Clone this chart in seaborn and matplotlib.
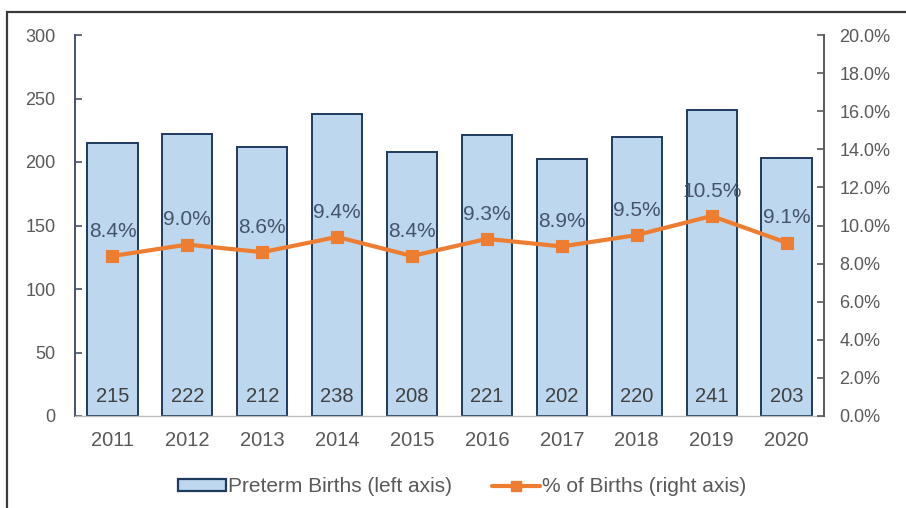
import matplotlib
matplotlib.use("Agg")
import matplotlib.pyplot as plt
from matplotlib.patches import Rectangle, Patch
from matplotlib.lines import Line2D
from matplotlib.ticker import FuncFormatter, MultipleLocator
import seaborn as sns
import pandas as pd

years = ["2011", "2012", "2013", "2014", "2015", "2016", "2017", "2018", "2019", "2020"]
preterm_births = [215, 222, 212, 238, 208, 221, 202, 220, 241, 203]
pct_of_births = [8.4, 9.0, 8.6, 9.4, 8.4, 9.3, 8.9, 9.5, 10.5, 9.1]

df = pd.DataFrame({"year": years, "births": preterm_births, "pct": pct_of_births})

sns.set_theme(style="white")
plt.rcParams["font.family"] = ["Liberation Sans", "DejaVu Sans"]

BAR_FILL = "#BDD7EE"
BAR_EDGE = "#1F3A5F"
ORANGE = "#ED7D31"
TICK_GRAY = "#595959"
LABEL_GRAY = "#404040"

fig = plt.figure(figsize=(9.06, 5.08), dpi=100)
ax = fig.add_axes([75 / 906, 1 - 416 / 508, (824 - 75) / 906, (416 - 35) / 508])

sns.barplot(data=df, x="year", y="births", ax=ax, color=BAR_FILL,
            edgecolor=BAR_EDGE, linewidth=1.4, width=0.67, saturation=1)
ax.set_ylim(0, 300)
ax.yaxis.set_major_locator(MultipleLocator(50))
ax.set_xlim(-0.5, len(years) - 0.5)
ax.set_xlabel("")
ax.set_ylabel("")

for i, v in enumerate(preterm_births):
    ax.text(i, 15, f"{v}", ha="center", va="center", fontsize=14.5, color=LABEL_GRAY)

ax2 = ax.twinx()
sns.pointplot(data=df, x="year", y="pct", ax=ax2, color=ORANGE, markers="s",
              linewidth=3, markersize=7)
ax2.set_ylim(0, 20)
ax2.yaxis.set_major_locator(MultipleLocator(2))
ax2.yaxis.set_major_formatter(FuncFormatter(lambda v, p: f"{v:.1f}%"))
ax2.set_xlim(-0.5, len(years) - 0.5)
ax2.set_ylabel("")

for i, v in enumerate(pct_of_births):
    ax2.text(i, v + 1.3, f"{v:.1f}%", ha="center", va="center", fontsize=15,
             color="#44546A")

for a in (ax, ax2):
    for s in a.spines.values():
        s.set_visible(False)
ax.spines["left"].set_visible(True)
ax.spines["left"].set_color("#44546A")
ax.spines["left"].set_linewidth(1.4)
ax.spines["bottom"].set_visible(True)
ax.spines["bottom"].set_color("#BFBFBF")
ax.spines["bottom"].set_linewidth(1.0)
ax2.spines["right"].set_visible(True)
ax2.spines["right"].set_color("#595959")
ax2.spines["right"].set_linewidth(1.4)

ax.tick_params(axis="y", direction="in", length=5, width=1.2, color="#44546A",
               labelsize=13, labelcolor=TICK_GRAY, pad=14, left=True)
ax.tick_params(axis="x", length=0, labelsize=14.5, labelcolor=TICK_GRAY, pad=11)
ax2.tick_params(axis="y", direction="in", length=5, width=1.2, color="#595959",
                labelsize=13, labelcolor=TICK_GRAY, pad=11, right=True)

handles = [
    Patch(facecolor=BAR_FILL, edgecolor=BAR_EDGE, linewidth=1.6,
          label="Preterm Births (left axis)"),
    Line2D([], [], color=ORANGE, linewidth=3, marker="s", markersize=7,
           label="% of Births (right axis)"),
]
fig.legend(handles=handles, loc="center", bbox_to_anchor=(0.51, 1 - 487 / 508),
           ncol=2, frameon=False, fontsize=15, handlelength=2.3,
           handleheight=0.5, handletextpad=0.1, columnspacing=1.9,
           labelcolor=TICK_GRAY)

# outer chart frame
fig.patches.append(Rectangle((7 / 906, -0.05), 1.2, 1.05 - 12 / 508,
                             transform=fig.transFigure, fill=False,
                             edgecolor="#3A3A3A", linewidth=1.6, zorder=0))

fig.savefig("out.png", dpi=100)
